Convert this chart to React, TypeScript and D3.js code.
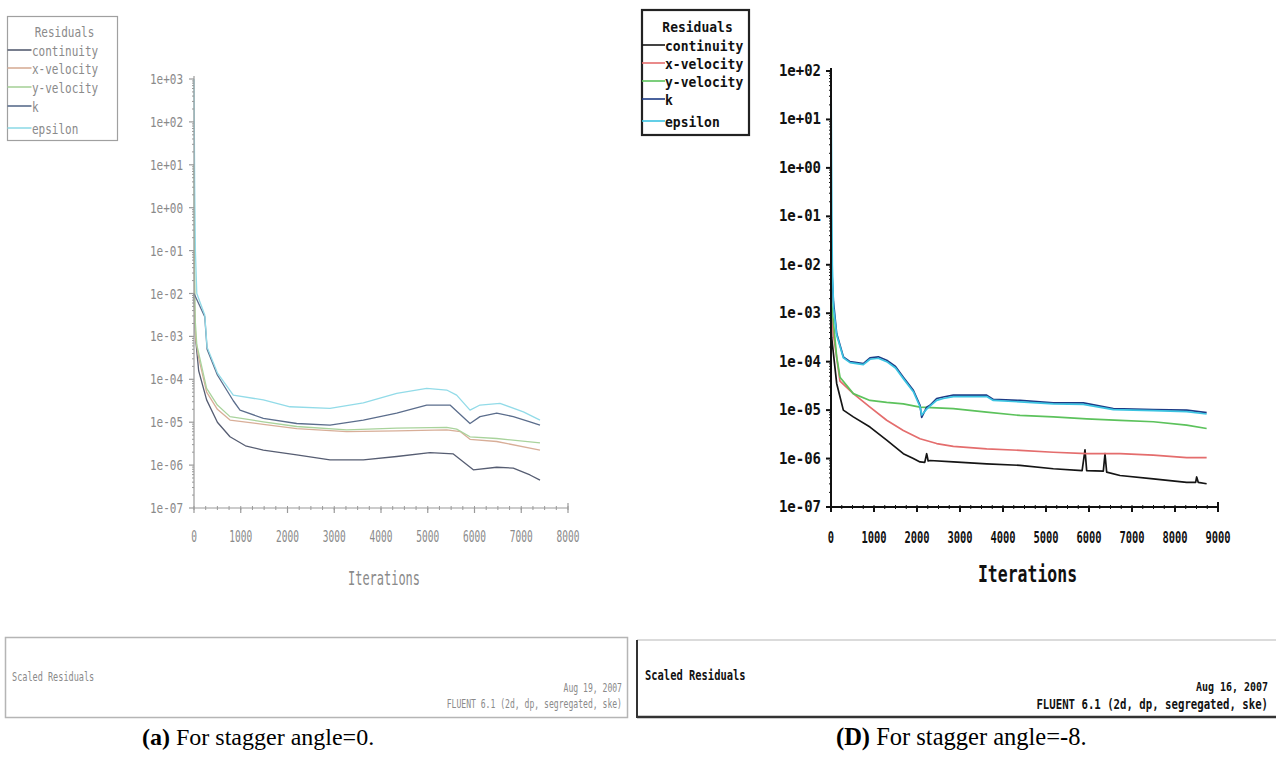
import React from "react";
import * as d3 from "d3";

// Each series: [iteration, log10(scaled residual)]
type Pt = [number, number];

const seriesNames = ["continuity", "x-velocity", "y-velocity", "k", "epsilon"];

// ---- Stagger angle = 0 ----
const continuityA: Pt[] = [[0,-2.0],[30,-3.0],[100,-3.8],[270,-4.48],[500,-5.0],[770,-5.34],[1100,-5.55],[1483,-5.65],[2197,-5.76],[2909,-5.88],[3622,-5.88],[4336,-5.80],[5048,-5.71],[5547,-5.74],[5975,-6.11],[6475,-6.05],[6830,-6.07],[7187,-6.23],[7401,-6.35]];
const xVelocityA: Pt[] = [[0,-1.0],[15,-2.5],[40,-3.1],[100,-3.5],[270,-4.3],[500,-4.7],[770,-4.95],[1483,-5.05],[2197,-5.15],[3266,-5.22],[4336,-5.2],[5405,-5.18],[5700,-5.22],[5904,-5.4],[6475,-5.45],[7401,-5.65]];
const yVelocityA: Pt[] = [[0,1.0],[10,-1.0],[25,-2.6],[60,-3.2],[270,-4.21],[500,-4.6],[770,-4.87],[1483,-4.99],[2197,-5.10],[3266,-5.18],[4336,-5.14],[5405,-5.12],[5618,-5.16],[5904,-5.34],[6475,-5.38],[7401,-5.48]];
const kA: Pt[] = [[0,-2.0],[230,-2.54],[280,-3.3],[500,-3.9],[840,-4.5],[984,-4.72],[1483,-4.91],[2197,-5.03],[2909,-5.07],[3622,-4.95],[4336,-4.79],[4977,-4.6],[5476,-4.6],[5904,-5.03],[6118,-4.87],[6475,-4.79],[6830,-4.87],[7187,-4.99],[7401,-5.07]];
const epsilonA: Pt[] = [[0,3.0],[15,0.5],[30,-1.0],[60,-2.0],[230,-2.5],[280,-3.25],[500,-3.85],[840,-4.37],[1483,-4.48],[2053,-4.64],[2909,-4.68],[3622,-4.55],[4336,-4.33],[4977,-4.21],[5405,-4.25],[5618,-4.37],[5904,-4.72],[6118,-4.6],[6545,-4.56],[7045,-4.76],[7401,-4.95]];

// ---- Stagger angle = -8 ----
const continuityD: Pt[] = [[0,-2.9],[15,-3.5],[132,-4.45],[287,-5.0],[519,-5.14],[907,-5.35],[1295,-5.62],[1682,-5.90],[1915,-6.00],[2070,-6.07],[2180,-6.08],[2225,-5.90],[2260,-6.05],[2302,-6.04],[2845,-6.07],[3620,-6.11],[4395,-6.14],[5170,-6.21],[5840,-6.25],[5907,-5.82],[5946,-6.25],[6333,-6.26],[6372,-5.90],[6411,-6.28],[6721,-6.35],[7496,-6.42],[8271,-6.49],[8480,-6.49],[8504,-6.38],[8540,-6.49],[8736,-6.52]];
const xVelocityD: Pt[] = [[0,-2.8],[54,-3.42],[209,-4.4],[519,-4.66],[907,-4.94],[1295,-5.21],[1682,-5.42],[2070,-5.59],[2457,-5.69],[2845,-5.75],[3620,-5.80],[4395,-5.83],[5170,-5.87],[5946,-5.90],[6721,-5.90],[7496,-5.93],[8271,-5.98],[8736,-5.98]];
const yVelocityD: Pt[] = [[0,-2.6],[30,-2.94],[132,-3.9],[209,-4.32],[519,-4.66],[907,-4.80],[1295,-4.84],[1682,-4.87],[2070,-4.94],[2845,-4.97],[3620,-5.04],[4395,-5.11],[5170,-5.14],[5946,-5.18],[6721,-5.21],[7496,-5.24],[8271,-5.31],[8736,-5.38]];
const kD: Pt[] = [[0,-1.5],[15,-2.04],[54,-2.73],[132,-3.42],[287,-3.90],[442,-4.0],[752,-4.04],[907,-3.92],[1100,-3.90],[1295,-3.97],[1500,-4.1],[1682,-4.32],[1915,-4.59],[2070,-4.90],[2109,-5.15],[2225,-4.94],[2302,-4.90],[2457,-4.76],[2612,-4.73],[2845,-4.69],[3620,-4.69],[3775,-4.78],[4395,-4.80],[5170,-4.85],[5868,-4.85],[6566,-4.97],[7496,-4.99],[8271,-5.0],[8736,-5.05]];
const epsilonD: Pt[] = [[0,2.0],[10,0.5],[20,-1.0],[30,-2.0],[60,-2.9],[132,-3.45],[287,-3.92],[442,-4.02],[752,-4.06],[907,-3.95],[1100,-3.93],[1295,-4.0],[1500,-4.13],[1682,-4.35],[1915,-4.62],[2070,-4.93],[2109,-5.1],[2225,-4.98],[2302,-4.92],[2457,-4.80],[2612,-4.76],[2845,-4.72],[3620,-4.72],[3775,-4.80],[4395,-4.83],[5170,-4.87],[5868,-4.88],[6566,-4.99],[7496,-5.01],[8271,-5.03],[8736,-5.08]];

const xTicksA = [0, 1000, 2000, 3000, 4000, 5000, 6000, 7000, 8000];
const xTicksD = [0, 1000, 2000, 3000, 4000, 5000, 6000, 7000, 8000, 9000];
const yLabelsA = ["1e+03","1e+02","1e+01","1e+00","1e-01","1e-02","1e-03","1e-04","1e-05","1e-06","1e-07"];
const yLabelsD = ["1e+02","1e+01","1e+00","1e-01","1e-02","1e-03","1e-04","1e-05","1e-06","1e-07"];

const colorsA = ["#565d72", "#d8ae98", "#a9d39c", "#5b6d8c", "#92dbe8"];
const colorsD = ["#151515", "#e46d6d", "#5cc25c", "#1d3b85", "#3cc4e2"];

const FONT = '"DejaVu Sans Mono", monospace';
const SERIF = '"Liberation Serif", "Times New Roman", serif';

type LabelProps = {
  x: number; y: number; text: string; size: number;
  sx?: number; sy?: number; anchor?: string; fill: string; weight?: string | number;
};
function Label({ x, y, text, size, sx = 1, sy = 1, anchor = "start", fill, weight = "normal" }: LabelProps) {
  return (
    <text
      transform={`translate(${x},${y}) scale(${sx},${sy})`}
      fontFamily={FONT}
      fontSize={size}
      fontWeight={weight}
      textAnchor={anchor}
      fill={fill}
    >
      {text}
    </text>
  );
}

type PanelCfg = {
  left: number; right: number; top: number; bottom: number;
  xMax: number; yMinExp: number; yMaxExp: number;
  xTicks: number[]; yLabels: string[];
  series: Pt[][]; colors: string[];
  axisColor: string; textColor: string; weight: string | number;
  axisWidth: number; lineWidth: number;
  yFont: number; ySx: number; ySy: number; yLabelX: number;
  xFont: number; xSx: number; xSy: number; xLabelY: number;
  titleFont: number; titleSx: number; titleSy: number; titleY: number;
};

function Panel({ cfg }: { cfg: PanelCfg }) {
  const x = d3.scaleLinear().domain([0, cfg.xMax]).range([cfg.left, cfg.right]);
  const y = d3.scaleLog().domain([10 ** cfg.yMinExp, 10 ** cfg.yMaxExp]).range([cfg.bottom, cfg.top]);
  const line = d3
    .line<Pt>()
    .x((d) => x(d[0]))
    .y((d) => y(10 ** d[1]));

  const minorX = d3.range(0, cfg.xMax + 1, 250);
  const decades = d3.range(cfg.yMinExp, cfg.yMaxExp + 1);
  const minorY: number[] = [];
  decades.slice(0, -1).forEach((e) => {
    for (let m = 2; m <= 9; m++) minorY.push(m * 10 ** e);
  });

  return (
    <g>
      {/* residual curves */}
      {cfg.series.map((s, i) => (
        <path key={i} d={line(s) || ""} fill="none" stroke={cfg.colors[i]}
          strokeWidth={cfg.lineWidth} strokeLinejoin="round" />
      ))}
      {/* axes */}
      <line x1={cfg.left} x2={cfg.left} y1={cfg.top - 3} y2={cfg.bottom}
        stroke={cfg.axisColor} strokeWidth={cfg.axisWidth} />
      <line x1={cfg.left} x2={cfg.right} y1={cfg.bottom} y2={cfg.bottom}
        stroke={cfg.axisColor} strokeWidth={cfg.axisWidth} />
      {/* y ticks */}
      {minorY.map((v, i) => (
        <line key={"my" + i} x1={cfg.left - 2} x2={cfg.left} y1={y(v)} y2={y(v)}
          stroke={cfg.axisColor} strokeWidth={1} />
      ))}
      {decades.map((e) => (
        <line key={"My" + e} x1={cfg.left - 5} x2={cfg.left} y1={y(10 ** e)} y2={y(10 ** e)}
          stroke={cfg.axisColor} strokeWidth={cfg.axisWidth} />
      ))}
      {cfg.yLabels.map((t, i) => (
        <Label key={"ly" + i} x={cfg.yLabelX} y={y(10 ** (cfg.yMaxExp - i)) + 5}
          text={t} size={cfg.yFont} sx={cfg.ySx} sy={cfg.ySy} anchor="end"
          fill={cfg.textColor} weight={cfg.weight} />
      ))}
      {/* x ticks */}
      {minorX.map((v, i) => (
        <line key={"mx" + i} x1={x(v)} x2={x(v)} y1={cfg.bottom - 2} y2={cfg.bottom + 2}
          stroke={cfg.axisColor} strokeWidth={1} />
      ))}
      {cfg.xTicks.map((v) => (
        <line key={"Mx" + v} x1={x(v)} x2={x(v)} y1={cfg.bottom} y2={cfg.bottom + 5}
          stroke={cfg.axisColor} strokeWidth={cfg.axisWidth} />
      ))}
      <line x1={cfg.right} x2={cfg.right} y1={cfg.bottom - 5} y2={cfg.bottom}
        stroke={cfg.axisColor} strokeWidth={cfg.axisWidth} />
      {cfg.xTicks.map((v) => (
        <Label key={"lx" + v} x={x(v)} y={cfg.xLabelY} text={String(v)}
          size={cfg.xFont} sx={cfg.xSx} sy={cfg.xSy} anchor="middle"
          fill={cfg.textColor} weight={cfg.weight} />
      ))}
      <Label x={(cfg.left + cfg.right) / 2 + 3} y={cfg.titleY} text="Iterations"
        size={cfg.titleFont} sx={cfg.titleSx} sy={cfg.titleSy} anchor="middle"
        fill={cfg.textColor} weight={cfg.weight} />
    </g>
  );
}

type LegendCfg = {
  x: number; y: number; w: number; h: number;
  titleY: number; rowY: number[]; lineLen: number; textX: number;
  colors: string[]; textColor: string; border: string; borderWidth: number;
  font: number; sx: number; sy: number; weight: string | number;
};

function Legend({ cfg }: { cfg: LegendCfg }) {
  return (
    <g>
      <rect x={cfg.x} y={cfg.y} width={cfg.w} height={cfg.h} fill="#fff"
        stroke={cfg.border} strokeWidth={cfg.borderWidth} />
      <Label x={cfg.x + cfg.w / 2 + 2} y={cfg.titleY} text="Residuals" size={cfg.font}
        sx={cfg.sx} sy={cfg.sy} anchor="middle" fill={cfg.textColor} weight={cfg.weight} />
      {seriesNames.map((n, i) => (
        <g key={n}>
          <line x1={cfg.x} x2={cfg.x + cfg.lineLen} y1={cfg.rowY[i] - 6} y2={cfg.rowY[i] - 6}
            stroke={cfg.colors[i]} strokeWidth={1.6} />
          <Label x={cfg.textX} y={cfg.rowY[i]} text={n} size={cfg.font} sx={cfg.sx} sy={cfg.sy}
            fill={cfg.textColor} weight={cfg.weight} />
        </g>
      ))}
    </g>
  );
}

const panelA: PanelCfg = {
  left: 194, right: 568, top: 79, bottom: 508,
  xMax: 8000, yMinExp: -7, yMaxExp: 3,
  xTicks: xTicksA, yLabels: yLabelsA,
  series: [continuityA, xVelocityA, yVelocityA, kA, epsilonA], colors: colorsA,
  axisColor: "#9a9a9a", textColor: "#8a8a8a", weight: "normal",
  axisWidth: 1.2, lineWidth: 1.3,
  yFont: 11, ySx: 1, ySy: 1.35, yLabelX: 183,
  xFont: 10, xSx: 0.95, xSy: 1.5, xLabelY: 542,
  titleFont: 13, titleSx: 0.92, titleSy: 1.45, titleY: 585,
};

const panelD: PanelCfg = {
  left: 831, right: 1218, top: 71, bottom: 507,
  xMax: 9000, yMinExp: -7, yMaxExp: 2,
  xTicks: xTicksD, yLabels: yLabelsD,
  series: [continuityD, xVelocityD, yVelocityD, kD, epsilonD], colors: colorsD,
  axisColor: "#111", textColor: "#111", weight: "bold",
  axisWidth: 2, lineWidth: 1.7,
  yFont: 14, ySx: 1, ySy: 1.15, yLabelX: 821,
  xFont: 11, xSx: 0.95, xSy: 1.5, xLabelY: 543,
  titleFont: 16, titleSx: 1.03, titleSy: 1.4, titleY: 582,
};

const legendA: LegendCfg = {
  x: 7.5, y: 16.5, w: 110, h: 124,
  titleY: 37, rowY: [56, 74, 93, 112, 134], lineLen: 24, textX: 32,
  colors: colorsA, textColor: "#8a8a8a", border: "#a0a0a0", borderWidth: 1.2,
  font: 11, sx: 1.0, sy: 1.3, weight: "normal",
};

const legendD: LegendCfg = {
  x: 642, y: 10, w: 107, h: 125,
  titleY: 32, rowY: [51, 69, 87, 105, 127], lineLen: 23, textX: 665,
  colors: colorsD, textColor: "#111", border: "#222", borderWidth: 2.2,
  font: 13, sx: 1.0, sy: 1.15, weight: "bold",
};

export default function App() {
  return (
    <svg width={1279} height={758} viewBox="0 0 1279 758"
      style={{ position: "absolute", left: 0, top: 0, background: "#fff" }}>
      <rect x={0} y={0} width={1279} height={758} fill="#fff" />

      <Panel cfg={panelA} />
      <Legend cfg={legendA} />
      <Panel cfg={panelD} />
      <Legend cfg={legendD} />

      {/* footer boxes */}
      <rect x={5.5} y={637.5} width={622} height={80} fill="none" stroke="#b5b5b5" strokeWidth={1.5} />
      <Label x={12} y={681} text="Scaled Residuals" size={9} sx={0.95} sy={1.45} fill="#8a8a8a" />
      <Label x={622} y={692} text="Aug 19, 2007" size={9} sx={0.9} sy={1.4} anchor="end" fill="#8a8a8a" />
      <Label x={622} y={708} text="FLUENT 6.1 (2d, dp, segregated, ske)" size={9} sx={0.9} sy={1.4} anchor="end" fill="#8a8a8a" />

      <line x1={637} x2={1276} y1={640} y2={640} stroke="#cfcfcf" strokeWidth={1.5} />
      <line x1={637} x2={637} y1={640} y2={718} stroke="#333" strokeWidth={2} />
      <line x1={637} x2={1276} y1={717} y2={717} stroke="#333" strokeWidth={2.5} />
      <Label x={645} y={680} text="Scaled Residuals" size={11} sx={0.95} sy={1.35} fill="#111" weight="bold" />
      <Label x={1268} y={691} text="Aug 16, 2007" size={10.5} sx={0.95} sy={1.25} anchor="end" fill="#111" weight="bold" />
      <Label x={1268} y={709} text="FLUENT 6.1 (2d, dp, segregated, ske)" size={11.5} sx={0.93} sy={1.25} anchor="end" fill="#111" weight="bold" />

      {/* captions */}
      <text x={142} y={745} fontFamily={SERIF} fontSize={24} fill="#000">
        <tspan fontWeight="bold">(a)</tspan> For stagger angle=0.
      </text>
      <text x={836} y={745} fontFamily={SERIF} fontSize={24.5} fill="#000">
        <tspan fontWeight="bold">(D)</tspan> For stagger angle=-8.
      </text>
    </svg>
  );
}
